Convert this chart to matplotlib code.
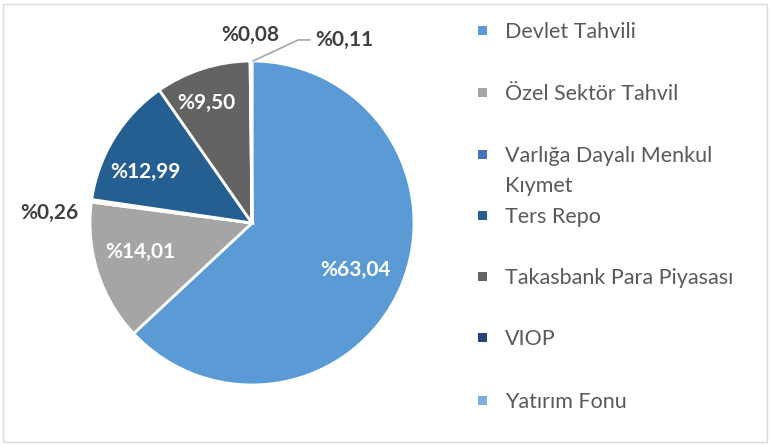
import matplotlib.pyplot as plt
import numpy as np
from matplotlib.patches import Rectangle

# Portfolio composition (%)
categories = ['Devlet Tahvili', 'Özel Sektör Tahvil', 'Varlığa Dayalı Menkul\nKıymet',
              'Ters Repo', 'Takasbank Para Piyasası', 'VIOP', 'Yatırım Fonu']
values = [63.04, 14.01, 0.26, 12.99, 9.50, 0.08, 0.11]
value_labels = ['%63,04', '%14,01', '%0,26', '%12,99', '%9,50', '%0,08', '%0,11']
colors = ['#5B9BD5', '#A5A5A5', '#4472C4', '#255E91', '#636363', '#264478', '#7CAFDD']

plt.rcParams['font.family'] = ['Lato', 'DejaVu Sans']

W, H = 770, 445
fig = plt.figure(figsize=(W / 100, H / 100), dpi=100)

# pie axes: centre (252, 223), radius 162 px
cx, cy, r = 252, 223, 162
ax = fig.add_axes([(cx - r) / W, (H - cy - r) / H, 2 * r / W, 2 * r / H])
wedges, _ = ax.pie(values, colors=colors, startangle=90, counterclock=False,
                   wedgeprops=dict(edgecolor='white', linewidth=2))
ax.set_xlim(-1, 1)
ax.set_ylim(-1, 1)
ax.set_aspect('equal')

# label placement: radius (fraction of pie radius) and angle nudge per slice
radii = [0.70, 0.71, 1.25, 0.73, 0.79, 1.16, None]
nudge = [-1, -3, 5, 6, 3, 0, 0]
inside = [True, True, False, True, True, False, False]
for w, lab, rad, dn, ins in zip(wedges, value_labels, radii, nudge, inside):
    mid = np.deg2rad((w.theta1 + w.theta2) / 2 + dn)
    if rad is None:
        x0, y0 = np.cos(mid), np.sin(mid)
        ax.annotate(lab, xy=(x0 + 0.01, y0), xytext=(0.39, 1.13),
                    color='#404040', fontsize=15, fontweight='bold',
                    ha='left', va='center',
                    arrowprops=dict(arrowstyle='-', color='#A5A5A5', lw=1.2,
                                    connectionstyle='angle,angleA=0,angleB=25,rad=0',
                                    shrinkA=2, shrinkB=0))
        continue
    x, y = rad * np.cos(mid), rad * np.sin(mid)
    ax.text(x, y, lab, ha='center', va='center', fontsize=15, fontweight='bold',
            color='white' if ins else '#404040')

# legend drawn by hand to mimic the evenly spaced rows
row_y = [30, 92, 154, 215, 276, 337, 400]
for name, col, y in zip(categories, colors, row_y):
    fig.add_artist(Rectangle((478 / W, (H - y - 4.5) / H), 9 / W, 9 / H,
                             transform=fig.transFigure, facecolor=col, edgecolor='none'))
    for k, line in enumerate(name.split('\n')):
        fig.text(505 / W, (H - y - 30 * k) / H, line, ha='left', va='center_baseline',
                 fontsize=15.5, color='#595959')

# light frame around the chart area
fig.add_artist(Rectangle((2.5 / W, 3.5 / H), 764 / W, 438 / H, transform=fig.transFigure,
                         facecolor='none', edgecolor='#D9D9D9', linewidth=1))

fig.savefig('out.png', dpi=100)
